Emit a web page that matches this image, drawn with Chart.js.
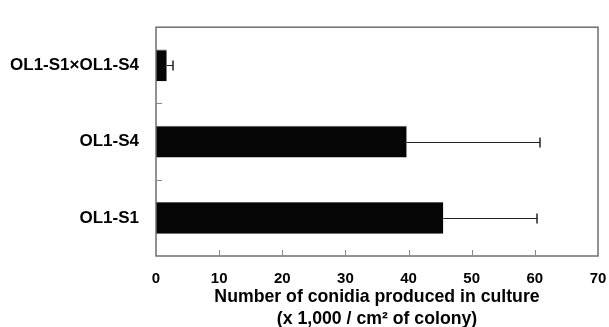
<!DOCTYPE html>
<html>
<head>
<meta charset="utf-8">
<script src="https://cdn.jsdelivr.net/npm/chart.js@4"></script>
<style>
  html, body { margin: 0; padding: 0; background: #fff; }
  #wrap { width: 609px; height: 327px; position: relative; }
</style>
</head>
<body>
<div id="wrap"><canvas id="c"></canvas></div>
<script>
// Strains, listed top to bottom
const strains = ['OL1-S1×OL1-S4', 'OL1-S4', 'OL1-S1'];
// Mean conidia count (x 1,000 / cm² of colony)
const conidiaMean = [1.7, 39.7, 45.5];
// Upper error (standard deviation)
const conidiaSD = [1.0, 21.1, 14.9];
// X axis range and step
const xTicks = [0, 10, 20, 30, 40, 50, 60, 70];

const FONT = '"Liberation Sans", Arial, Helvetica, sans-serif';

// Error bars, plot frame and inward tick marks
const decorations = {
  id: 'decorations',
  afterDatasetsDraw(chart) {
    const { ctx, chartArea: a, scales } = chart;
    const x = scales.x, y = scales.y;
    const meta = chart.getDatasetMeta(0);
    ctx.save();

    // error bars
    ctx.strokeStyle = '#222';
    meta.data.forEach((bar, i) => {
      const x0 = x.getPixelForValue(conidiaMean[i]);
      const x1 = x.getPixelForValue(conidiaMean[i] + conidiaSD[i]);
      const yc = Math.round(bar.y) + 0.5;
      ctx.lineWidth = 1;
      ctx.beginPath();
      ctx.moveTo(x0, yc);
      ctx.lineTo(x1, yc);
      ctx.stroke();
      ctx.lineWidth = 1.5;
      ctx.beginPath();
      ctx.moveTo(Math.round(x1), yc - 5);
      ctx.lineTo(Math.round(x1), yc + 5);
      ctx.stroke();
    });

    // frame
    ctx.strokeStyle = '#6e6e6e';
    ctx.lineWidth = 1.5;
    ctx.strokeRect(a.left, a.top, a.right - a.left, a.bottom - a.top);

    // x ticks pointing up into the plot
    ctx.lineWidth = 1;
    ctx.strokeStyle = '#8a8a8a';
    x.ticks.forEach((t, i) => {
      if (i === 0 || i === x.ticks.length - 1) return;
      const px = Math.round(x.getPixelForTick(i)) + 0.5;
      ctx.beginPath();
      ctx.moveTo(px, a.bottom);
      ctx.lineTo(px, a.bottom - 6);
      ctx.stroke();
    });

    // y ticks at the category boundaries
    for (let i = 0; i < strains.length - 1; i++) {
      const py = Math.round(y.getPixelForValue(i + 0.5)) + 0.5;
      ctx.beginPath();
      ctx.moveTo(a.left, py);
      ctx.lineTo(a.left + 6, py);
      ctx.stroke();
    }
    ctx.restore();
  }
};

new Chart(document.getElementById('c'), {
  type: 'bar',
  data: {
    labels: strains,
    datasets: [{
      data: conidiaMean,
      backgroundColor: '#050505',
      borderColor: '#5a5a5a',
      borderWidth: { top: 1, right: 0, bottom: 0, left: 0 },
      borderSkipped: false,
      categoryPercentage: 1,
      barPercentage: 0.415
    }]
  },
  options: {
    indexAxis: 'y',
    responsive: true,
    maintainAspectRatio: false,
    animation: false,
    layout: { padding: { top: 10, right: 11, left: 0, bottom: 0 } },
    plugins: { legend: { display: false }, tooltip: { enabled: false } },
    scales: {
      x: {
        min: xTicks[0],
        max: xTicks[xTicks.length - 1],
        afterBuildTicks(scale) { scale.ticks = xTicks.map(v => ({ value: v })); },
        afterFit(scale) {
          scale.height = 71;
          scale.paddingLeft = 0;
          scale.paddingRight = 0;
        },
        border: { display: false },
        grid: { display: false, drawTicks: false },
        ticks: {
          padding: 14,
          color: '#000',
          font: { family: FONT, size: 15, weight: 'bold' }
        },
        title: {
          display: true,
          text: ['Number of conidia produced in culture', '(x 1,000 / cm² of colony)'],
          color: '#000',
          padding: { top: 0, bottom: -3 },
          font: { family: FONT, size: 17.7, weight: 'bold', lineHeight: '22px' }
        }
      },
      y: {
        afterFit(scale) { scale.width = 156; },
        border: { display: false },
        grid: { display: false, drawTicks: false },
        ticks: {
          padding: 17,
          color: '#000',
          font: { family: FONT, size: 17, weight: 'bold' }
        }
      }
    }
  },
  plugins: [decorations]
});
</script>
</body>
</html>
